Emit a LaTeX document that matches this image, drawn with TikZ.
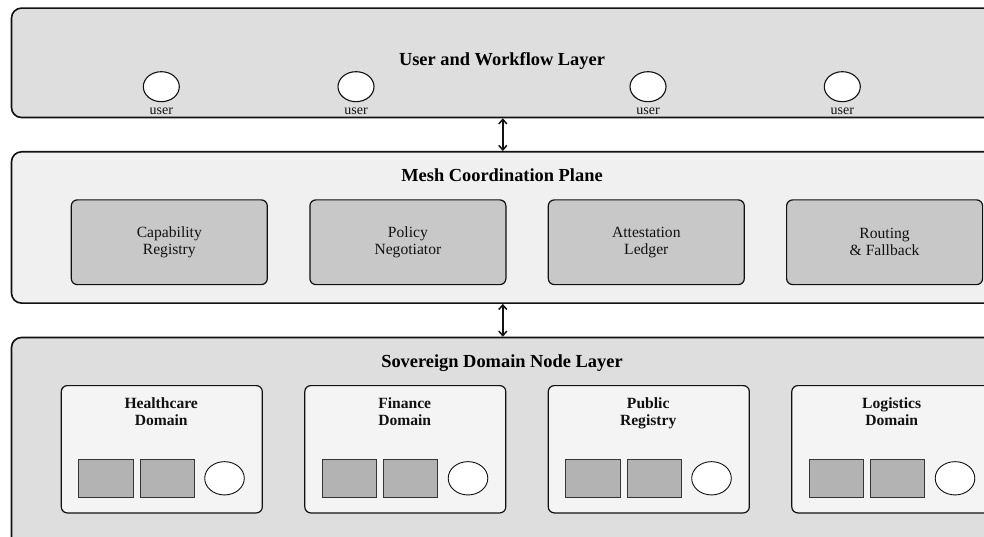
\documentclass[tikz,border=0pt]{standalone}
\usepackage{fontspec}
\setmainfont{Liberation Serif}
\usetikzlibrary{arrows.meta,shapes.geometric}
\definecolor{layerfill}{HTML}{DEDEDE}
\definecolor{meshfill}{HTML}{F0F0F0}
\definecolor{compfill}{HTML}{C8C8C8}
\definecolor{domfill}{HTML}{F4F4F4}
\definecolor{storefill}{HTML}{B3B3B3}
\definecolor{ink}{HTML}{111111}
\tikzset{
  layerbox/.style={draw=ink, line width=1.6pt, rounded corners=10pt, inner sep=0pt, anchor=north west, minimum width=982.6pt},
  layertitle/.style={anchor=base, inner sep=0pt, font=\fontsize{18.4}{20}\selectfont\bfseries},
  comp/.style={draw=ink, line width=1.2pt, rounded corners=6pt, fill=compfill, minimum width=196pt, minimum height=84.7pt, anchor=north west, align=center, inner sep=0pt, text=ink, font=\fontsize{15.6}{17}\selectfont},
  dombox/.style={draw=ink, line width=1.2pt, rounded corners=6pt, fill=domfill, minimum width=201pt, minimum height=127.3pt, anchor=north west, inner sep=0pt},
  domtitle/.style={anchor=north, inner sep=0pt, align=center, text=ink, font=\fontsize{15.6}{17.3}\selectfont\bfseries},
  store/.style={draw=ink!85, line width=0.9pt, fill=storefill, minimum width=54.2pt, minimum height=38pt, anchor=north west, inner sep=0pt},
  agent/.style={draw=ink, ellipse, line width=0.9pt, fill=white, minimum width=39.6pt, minimum height=33.3pt, inner sep=0pt},
  usr/.style={draw=ink, ellipse, line width=1.1pt, fill=white, minimum width=36pt, minimum height=30pt, inner sep=0pt},
  usrlabel/.style={anchor=base, inner sep=0pt, text=ink, font=\fontsize{14}{16}\selectfont},
  link/.style={draw=ink, line width=1.5pt, {Straight Barb[length=4.5pt,width=8pt]}-{Straight Barb[length=4.5pt,width=8pt]}}
}
\begin{document}
\begin{tikzpicture}[x=1pt,y=-1pt]
\useasboundingbox (0,0) rectangle (984,537);
\fill[white] (0,0) rectangle (984,537);
\clip (0,0) rectangle (984,537);

% User and Workflow Layer
\node[layerbox, fill=layerfill, minimum height=109.4pt] (ulayer) at (10.7,7.3) {};
\node[layertitle] (utitle) at (502,65.5) {User and Workflow Layer};
\foreach \i/\x in {1/161.3, 2/356, 3/648, 4/842.3}{
  \node[usr] (u\i) at (\x,86.7) {};
  \node[usrlabel] (ul\i) at (\x,114.3) {user};
}

% Mesh Coordination Plane
\node[layerbox, fill=meshfill, minimum height=151.3pt] (mlayer) at (10.7,151) {};
\node[layertitle] (mtitle) at (502,181.5) {Mesh Coordination Plane};
\node[comp] (c1) at (70.7,199.3) {Capability\\Registry};
\node[comp] (c2) at (309.3,199.3) {Policy\\Negotiator};
\node[comp] (c3) at (547.7,199.3) {Attestation\\Ledger};
\node[comp] (c4) at (786,199.3) {Routing\\\& Fallback};

% Sovereign Domain Node Layer
\node[layerbox, fill=layerfill, minimum height=215pt] (slayer) at (10.7,336.7) {};
\node[layertitle] (stitle) at (502,367) {Sovereign Domain Node Layer};
\foreach \i/\x/\t in {1/60.7/{Healthcare\\Domain}, 2/304.2/{Finance\\Domain}, 3/547.7/{Public\\Registry}, 4/791.2/{Logistics\\Domain}}{
  \node[dombox] (d\i) at (\x,385) {};
  \node[domtitle] (dt\i) at (\x+100.5,397.6) {\t};
  \node[store] (da\i) at (\x+17.6,459.3) {};
  \node[store] (db\i) at (\x+79,459.3) {};
  \node[agent] (dc\i) at (\x+163.8,478.3) {};
}

% connectors
\draw[link] (ulayer.south) -- (mlayer.north);
\draw[link] (mlayer.south) -- (slayer.north);
\end{tikzpicture}
\end{document}
